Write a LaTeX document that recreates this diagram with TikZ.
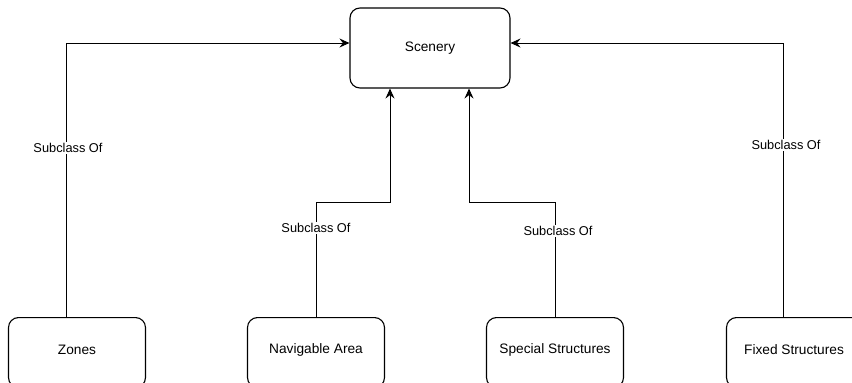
\documentclass[tikz,border=0pt]{standalone}
\usepackage{fontspec}
\setmainfont{Liberation Sans}
\usetikzlibrary{arrows.meta}
\tikzset{
  cls/.style={draw, rounded corners=10pt, line width=1.1pt, minimum width=137pt, minimum height=70pt, inner sep=0pt},
  topcls/.style={draw, rounded corners=10pt, line width=1.1pt, minimum width=160pt, minimum height=80pt, inner sep=0pt, font=\fontsize{13.7}{16}\selectfont},
  clstext/.style={font=\fontsize{13.7}{16}\selectfont},
  rel/.style={line width=0.9pt, -{Stealth[length=10pt, width=9pt, inset=3.5pt]}},
  lbl/.style={fill=white, inner sep=1.5pt, font=\fontsize{12.8}{15}\selectfont}
}
\begin{document}
\begin{tikzpicture}[x=1pt, y=-1pt]
  \useasboundingbox (0,0) rectangle (852,383);
  % parent class
  \node[topcls] (scenery) at (430,48) {Scenery};
  % subclasses along the bottom
  \node[cls, anchor=north] (zones) at (77,317) {};
  \node[clstext] (zonesT) at (77,350) {Zones};
  \node[cls, anchor=north] (nav) at (316,317) {};
  \node[clstext] (navT) at (316,350) {Navigable Area};
  \node[cls, anchor=north] (spec) at (555,317) {};
  \node[clstext] (specT) at (555,350) {Special Structures};
  \node[cls, anchor=north] (fixed) at (795,317) {};
  \node[clstext] (fixedT) at (794,350) {Fixed Structures};
  % bend points
  \coordinate (zb) at (66,43);
  \coordinate (fb) at (783,43);
  \coordinate (nb1) at (316,202);
  \coordinate (nb2) at (390,202);
  \coordinate (sb1) at (555,202);
  \coordinate (sb2) at (469,202);
  % subclass relations
  \draw[rel] (zones.north -| zb) -- (zb) -- (scenery.west |- zb);
  \draw[rel] (fixed.north -| fb) -- (fb) -- (scenery.east |- fb);
  \draw[rel] (nav.north) -- (nb1) -- (nb2) -- (scenery.south -| nb2);
  \draw[rel] (spec.north) -- (sb1) -- (sb2) -- (scenery.south -| sb2);
  % relation labels
  \node[lbl] (l1) at (68,148) {Subclass Of};
  \node[lbl] (l2) at (316,228) {Subclass Of};
  \node[lbl] (l3) at (558,231) {Subclass Of};
  \node[lbl] (l4) at (786,145) {Subclass Of};
\end{tikzpicture}
\end{document}
